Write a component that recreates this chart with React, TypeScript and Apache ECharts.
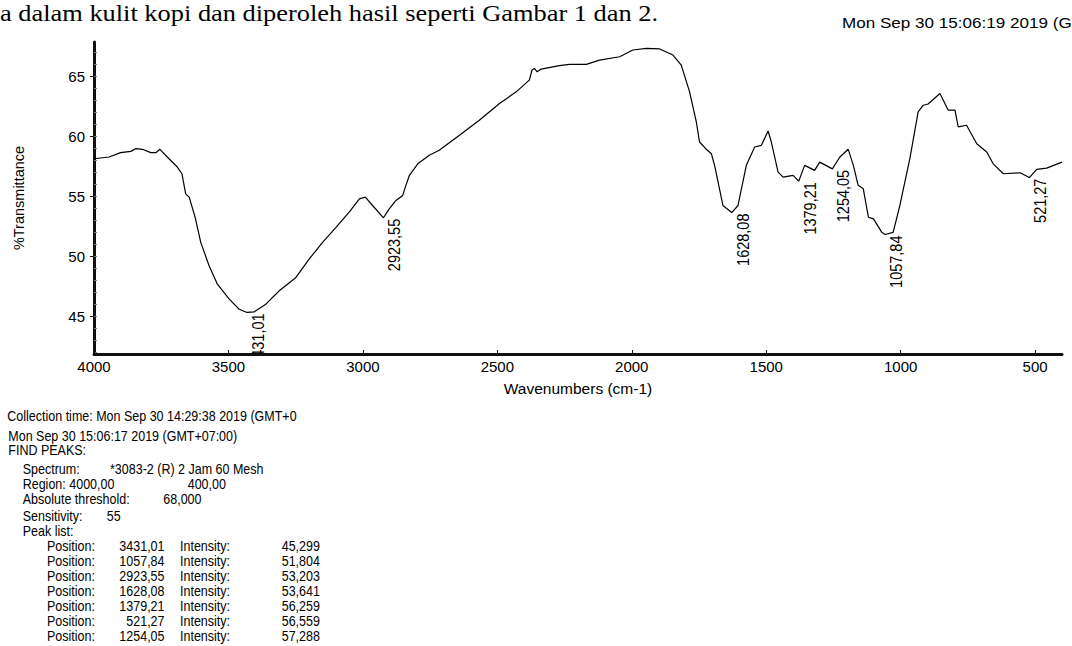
import React, { useEffect, useRef } from 'react';
import * as echarts from 'echarts';

// Spectrum trace (wavenumber cm-1, %T)
const wavenumbers = [
  4000, 3944, 3901, 3863, 3845, 3820, 3789, 3770, 3755, 3721, 3690, 3673, 3659, 3646, 3624, 3603,
  3572, 3541, 3497, 3460, 3431.01, 3404, 3361, 3311, 3249, 3200, 3150, 3100, 3051, 3013, 2991, 2964,
  2923.55, 2902, 2877, 2852, 2840, 2827, 2796, 2753, 2716, 2641, 2567, 2492, 2430, 2381, 2371, 2362,
  2352, 2337, 2269, 2232, 2169, 2120, 2045, 1996, 1946, 1896, 1847, 1816, 1785, 1760, 1748, 1725,
  1704, 1692, 1661, 1628.08, 1605, 1574, 1543, 1518, 1493, 1481, 1456, 1437, 1400, 1379.21, 1357, 1320,
  1301, 1254.05, 1226, 1195, 1176, 1158, 1139, 1120, 1101, 1070, 1057.84, 1028, 1003, 966, 935, 916,
  898, 854, 823, 798, 786, 755, 717, 680, 656, 618, 556, 521.27, 494, 457, 400,
];
const transmittance = [
  58.13, 58.28, 58.64, 58.75, 58.97, 58.92, 58.64, 58.64, 58.92, 58.13, 57.44, 56.88, 55.2, 54.93, 53.25, 51.15,
  49.2, 47.66, 46.41, 45.57, 45.299, 45.35, 45.99, 47.11, 48.22, 49.75, 51.15, 52.41, 53.67, 54.78, 54.93, 54.23,
  53.203, 53.95, 54.65, 55.07, 55.91, 56.75, 57.71, 58.42, 58.84, 60.09, 61.35, 62.74, 63.72, 64.7, 65.54, 65.67,
  65.39, 65.62, 65.9, 66.01, 66.01, 66.37, 66.65, 67.21, 67.35, 67.3, 66.79, 65.95, 63.72, 61.21, 59.53, 58.97,
  58.55, 57.58, 54.23, 53.641, 54.23, 57.58, 59.11, 59.25, 60.45, 59.53, 57.02, 56.6, 56.75, 56.259, 57.58, 57.16,
  57.85, 57.288, 58.28, 58.92, 57.58, 55.91, 55.62, 53.25, 53.11, 51.99, 51.804, 51.99, 54.23, 58.13, 62.04, 62.6,
  62.7, 63.58, 62.19, 62.19, 60.79, 60.93, 59.39, 58.69, 57.71, 56.88, 56.96, 56.559, 57.25, 57.35, 57.85,
];

// Peak list (in report order)
const peakPositions = [3431.01, 1057.84, 2923.55, 1628.08, 1379.21, 521.27, 1254.05];
const peakIntensities = [45.299, 51.804, 53.203, 53.641, 56.259, 56.559, 57.288];

// Axis ticks
const xTickValues = [4000, 3500, 3000, 2500, 2000, 1500, 1000, 500];
const yTickValues = [45, 50, 55, 60, 65];
const yMinorTickValues = [42, 43, 44, 45, 46, 47, 48, 49, 50, 51, 52, 53, 54, 55, 56, 57, 58, 59, 60, 61, 62, 63, 64, 65, 66, 67];

const SANS = '"Liberation Sans", Arial, sans-serif';
const SERIF = '"Liberation Serif", "Times New Roman", serif';

const fmt = (v: number, d: number) => v.toFixed(d).replace('.', ',');

function bottomText(text: string, x: number, y: number, align: string = 'left') {
  return {
    type: 'text',
    x,
    y,
    scaleY: 1.12,
    silent: true,
    style: {
      text,
      font: '12.5px ' + SANS,
      fill: '#000',
      align,
      verticalAlign: 'middle',
    },
  };
}

export default function App() {
  const ref = useRef<HTMLDivElement>(null);

  useEffect(() => {
    if (!ref.current) return;
    const chart = echarts.init(ref.current, undefined, { renderer: 'svg' });

    const graphics: any[] = [
      {
        type: 'text',
        x: 0,
        y: 12.5,
        scaleX: 1.1,
        silent: true,
        style: {
          text: 'a dalam kulit kopi dan diperoleh hasil seperti Gambar 1 dan 2.',
          font: '24px ' + SERIF,
          fill: '#000',
          align: 'left',
          verticalAlign: 'middle',
        },
      },
      {
        type: 'text',
        x: 842,
        y: 23.2,
        scaleX: 1.22,
        silent: true,
        style: {
          text: 'Mon Sep 30 15:06:19 2019 (G',
          font: '14px ' + SANS,
          fill: '#000',
          align: 'left',
          verticalAlign: 'middle',
        },
      },
      bottomText('Collection time: Mon Sep 30 14:29:38 2019 (GMT+0', 7.3, 416),
      bottomText('Mon Sep 30 15:06:17 2019 (GMT+07:00)', 8.3, 436),
      bottomText('FIND PEAKS:', 8.3, 450),
      bottomText('Spectrum:', 22.7, 469),
      bottomText('*3083-2 (R) 2 Jam 60 Mesh', 110, 469),
      bottomText('Region: 4000,00', 22.7, 484),
      bottomText('400,00', 187.7, 484),
      bottomText('Absolute threshold:', 22.7, 499.5),
      bottomText('68,000', 163.3, 499.5),
      bottomText('Sensitivity:', 22.7, 516),
      bottomText('55', 106.7, 516),
      bottomText('Peak list:', 22.7, 531),
    ];
    peakPositions.forEach((p, i) => {
      const y = 546.7 + i * 15;
      graphics.push(bottomText('Position:', 47, y));
      graphics.push(bottomText(fmt(p, 2), 164.5, y, 'right'));
      graphics.push(bottomText('Intensity:', 180, y));
      graphics.push(bottomText(fmt(peakIntensities[i], 3), 281.7, y));
    });

    chart.setOption({
      animation: false,
      backgroundColor: '#fff',
      textStyle: { fontFamily: SANS },
      grid: { left: 94, right: 10, top: 42, bottom: 292, containLabel: false },
      xAxis: {
        type: 'value',
        inverse: true,
        min: 400,
        max: 4000,
        name: 'Wavenumbers (cm-1)',
        nameLocation: 'middle',
        nameGap: 26,
        nameTextStyle: { color: '#000', fontSize: 15.5, fontFamily: SANS },
        axisLine: { show: true, lineStyle: { color: '#111', width: 3 } },
        axisTick: { show: true, inside: true, length: 4, lineStyle: { color: '#111', width: 1 }, customValues: xTickValues },
        axisLabel: {
          color: '#000',
          fontSize: 15,
          fontFamily: SANS,
          margin: 5,
          customValues: xTickValues,
          formatter: (v: number) => String(v),
        },
        splitLine: { show: false },
      },
      yAxis: [
        {
          type: 'value',
          min: 41.83,
          max: 67.88,
          position: 'left',
          name: '%Transmittance',
          nameLocation: 'middle',
          nameGap: 68,
          nameTextStyle: { color: '#000', fontSize: 14.5, fontFamily: SANS },
          axisLine: { show: true, lineStyle: { color: '#111', width: 3 } },
          axisTick: { show: true, inside: false, length: 4, lineStyle: { color: '#111', width: 1 }, customValues: yTickValues },
          axisLabel: {
            color: '#000',
            fontSize: 15,
            fontFamily: SANS,
            margin: 9,
            customValues: yTickValues,
            formatter: (v: number) => String(v),
          },
          splitLine: { show: false },
        },
        {
          type: 'value',
          min: 41.83,
          max: 67.88,
          position: 'left',
          axisLine: { show: false },
          axisTick: { show: true, inside: true, length: 3, lineStyle: { color: '#777', width: 1 }, customValues: yMinorTickValues },
          axisLabel: { show: false },
          splitLine: { show: false },
        },
      ],
      series: [
        {
          type: 'line',
          xAxisIndex: 0,
          yAxisIndex: 0,
          data: wavenumbers.map((w, i) => [w, transmittance[i]]),
          symbol: 'none',
          showSymbol: false,
          smooth: false,
          clip: true,
          lineStyle: { color: '#000', width: 1.2 },
          silent: true,
        },
        {
          type: 'custom',
          coordinateSystem: 'cartesian2d',
          xAxisIndex: 0,
          yAxisIndex: 0,
          clip: true,
          silent: true,
          data: peakPositions.map((p, i) => [p, peakIntensities[i]]),
          renderItem: (params: any, api: any) => {
            const pt = api.coord([api.value(0), api.value(1)]);
            return {
              type: 'text',
              x: pt[0] + 11,
              y: pt[1] + 1,
              rotation: Math.PI / 2,
              scaleY: 1.2,
              style: {
                text: fmt(api.value(0), 2),
                font: '14.5px ' + SANS,
                fill: '#000',
                align: 'right',
                verticalAlign: 'middle',
              },
            };
          },
        },
      ],
      graphic: graphics,
    });

    return () => {
      chart.dispose();
    };
  }, []);

  return (
    <div
      ref={ref}
      style={{ position: 'fixed', left: 0, top: 0, width: 1072, height: 646, background: '#fff' }}
    />
  );
}
